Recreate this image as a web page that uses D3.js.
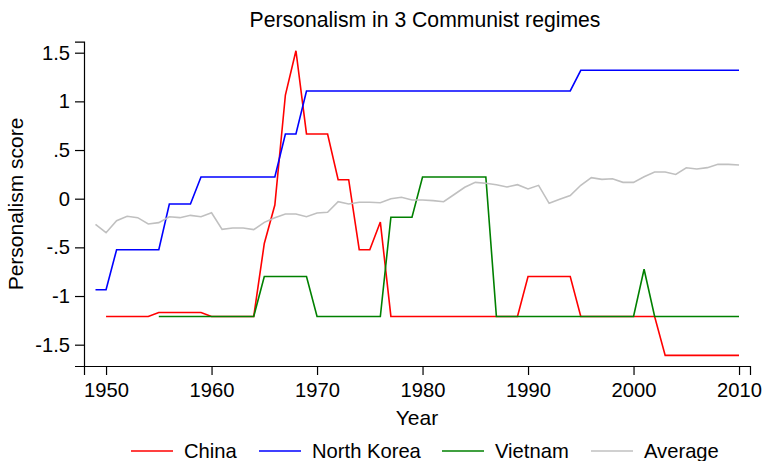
<!DOCTYPE html>
<html>
<head>
<meta charset="utf-8">
<script src="https://cdn.jsdelivr.net/npm/d3@7"></script>
<style>
  body { margin: 0; background: #fff; }
  text { font-family: "Liberation Sans", Arial, sans-serif; fill: #000; }
</style>
</head>
<body>
<div class="container"></div>
<script>
// Data
const chinaYears = d3.range(1950, 2011)
const chinaValues = [
  -1.21, -1.21, -1.21, -1.21, -1.21,
  -1.17, -1.17, -1.17, -1.17, -1.17,
  -1.21, -1.21, -1.21, -1.21, -1.21,
  -0.46, -0.065, 1.065, 1.52,
  0.665, 0.665, 0.665, 0.195, 0.195, -0.524, -0.524, -0.24,
  -1.21, -1.21, -1.21, -1.21, -1.21, -1.21, -1.21, -1.21, -1.21, -1.21, -1.21, -1.21, -1.21,
  -0.80, -0.80, -0.80, -0.80, -0.80,
  -1.21, -1.21, -1.21, -1.21, -1.21, -1.21, -1.21, -1.21,
  -1.61, -1.61, -1.61, -1.61, -1.61, -1.61, -1.61, -1.61
]

const koreaYears = d3.range(1949, 2011)
const koreaValues = [
  -0.935, -0.935,
  -0.524, -0.524, -0.524, -0.524, -0.524,
  -0.054, -0.054, -0.054,
  0.223, 0.223, 0.223, 0.223, 0.223, 0.223, 0.223, 0.223,
  0.665, 0.665,
  1.107, 1.107, 1.107, 1.107, 1.107, 1.107, 1.107, 1.107, 1.107, 1.107, 1.107, 1.107, 1.107,
  1.107, 1.107, 1.107, 1.107, 1.107, 1.107, 1.107, 1.107, 1.107, 1.107, 1.107, 1.107, 1.107,
  1.319, 1.319, 1.319, 1.319, 1.319, 1.319, 1.319, 1.319,
  1.319, 1.319, 1.319, 1.319, 1.319, 1.319, 1.319, 1.319
]

const vietnamYears = d3.range(1955, 2011)
const vietnamValues = [
  -1.21, -1.21, -1.21, -1.21, -1.21, -1.21, -1.21, -1.21, -1.21, -1.21,
  -0.80, -0.80, -0.80, -0.80, -0.80,
  -1.21, -1.21, -1.21, -1.21, -1.21, -1.21, -1.21,
  -0.19, -0.19, -0.19,
  0.223, 0.223, 0.223, 0.223, 0.223, 0.223, 0.223,
  -1.21, -1.21, -1.21, -1.21, -1.21, -1.21, -1.21, -1.21, -1.21, -1.21, -1.21, -1.21, -1.21, -1.21,
  -0.725,
  -1.21, -1.21, -1.21, -1.21, -1.21, -1.21, -1.21, -1.21, -1.21
]

const averageYears = d3.range(1949, 2011)
const averageValues = [
  -0.263, -0.349, -0.226, -0.181, -0.195, -0.26, -0.246, -0.185, -0.195, -0.171, -0.185, -0.144,
  -0.315, -0.301, -0.301, -0.318, -0.243, -0.195, -0.157, -0.157, -0.185, -0.147,
  -0.14, -0.031, -0.054, -0.037, -0.037, -0.041, 0.0, 0.014, -0.013, -0.013,
  -0.02, -0.031, 0.043, 0.117, 0.168, 0.158, 0.144, 0.12, 0.144, 0.10,
  0.137, -0.048, -0.007, 0.033, 0.138, 0.216, 0.199, 0.205, 0.168, 0.168,
  0.226, 0.275, 0.275, 0.249, 0.318, 0.305, 0.319, 0.353, 0.353, 0.346
]

const seriesNames = ["China", "North Korea", "Vietnam", "Average"]
const seriesColors = ["#ff0000", "#0000ff", "#008000", "#c0c0c0"]
const xTicks = [1950, 1960, 1970, 1980, 1990, 2000, 2010]
const yTicks = [1.5, 1, 0.5, 0, -0.5, -1, -1.5]

const w = 764
const h = 461

const series = [
  { name: seriesNames[0], color: seriesColors[0], points: d3.zip(chinaYears, chinaValues) },
  { name: seriesNames[1], color: seriesColors[1], points: d3.zip(koreaYears, koreaValues) },
  { name: seriesNames[2], color: seriesColors[2], points: d3.zip(vietnamYears, vietnamValues) },
  { name: seriesNames[3], color: seriesColors[3], points: d3.zip(averageYears, averageValues) }
]

// Scales: domain padded so the axis lines run past the first/last tick like Stata
const xScale = d3.scaleLinear()
                 .domain([1947.91, 2011.04])
                 .range([84, 750])
const yScale = d3.scaleLinear()
                 .domain([-1.719, 1.613])
                 .range([366, 41.7])

const fmt = (v) => String(v).replace("0.", ".")

const xAxis = d3.axisBottom(xScale)
                .tickValues(xTicks)
                .tickFormat(d3.format("d"))
                .tickSize(9)
                .tickPadding(8)
const yAxis = d3.axisLeft(yScale)
                .tickValues(yTicks)
                .tickFormat(fmt)
                .tickSize(9)
                .tickPadding(5)

const svg = d3.select(".container")
              .append("svg")
              .attr("width", w)
              .attr("height", h)

svg.append("rect")
   .attr("width", w)
   .attr("height", h)
   .attr("fill", "#fff")

// Lines
const line = d3.line()
               .x((d) => xScale(d[0]))
               .y((d) => yScale(d[1]))

svg.selectAll("path.series")
   .data(series)
   .enter()
   .append("path")
   .attr("class", "series")
   .attr("d", (d) => line(d.points))
   .attr("fill", "none")
   .attr("stroke", (d) => d.color)
   .attr("stroke-width", 1.6)
   .attr("stroke-linejoin", "miter")

// Axes
const gx = svg.append("g")
              .attr("transform", `translate(0, ${yScale.range()[0]})`)
              .call(xAxis)
const gy = svg.append("g")
              .attr("transform", `translate(${xScale.range()[0]}, 0)`)
              .call(yAxis)

for (const g of [gx, gy]) {
  g.selectAll("text")
   .style("font-family", "'Liberation Sans', Arial, sans-serif")
   .style("font-size", "20.2px")
   .attr("fill", "#000")
  g.selectAll("line").attr("stroke", "#000").attr("stroke-width", 1.2)
  g.select(".domain").attr("stroke", "#000").attr("stroke-width", 1.2)
}

// Title and axis labels
svg.append("text")
   .attr("x", 425)
   .attr("y", 27)
   .attr("text-anchor", "middle")
   .style("font-size", "21.2px")
   .text("Personalism in 3 Communist regimes")

svg.append("text")
   .attr("x", 417)
   .attr("y", 425)
   .attr("text-anchor", "middle")
   .style("font-size", "21px")
   .text("Year")

svg.append("text")
   .attr("transform", "translate(23, 204) rotate(-90)")
   .attr("text-anchor", "middle")
   .style("font-size", "21px")
   .text("Personalism score")

// Legend
const legendX = [131, 259, 442, 591]
const legend = svg.selectAll("g.legend")
                  .data(series)
                  .enter()
                  .append("g")
                  .attr("class", "legend")
                  .attr("transform", (d, i) => `translate(${legendX[i]}, 451)`)
legend.append("line")
      .attr("x1", 0)
      .attr("x2", 42)
      .attr("stroke", (d) => d.color)
      .attr("stroke-width", 1.6)
legend.append("text")
      .attr("x", 53)
      .attr("y", 7)
      .style("font-size", "20.2px")
      .text((d) => d.name)
</script>
</body>
</html>
